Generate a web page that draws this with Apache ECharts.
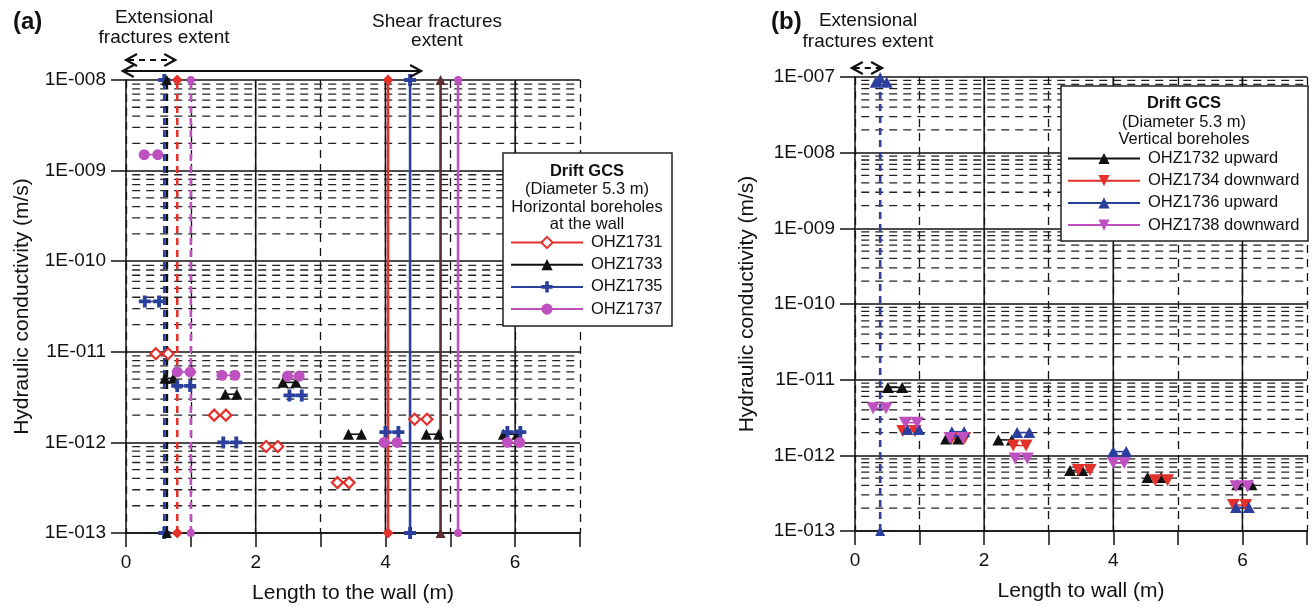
<!DOCTYPE html>
<html>
<head>
<meta charset="utf-8">
<script src="https://cdn.jsdelivr.net/npm/echarts@6/dist/echarts.min.js"></script>
<style>
  html, body { margin: 0; background: #fff; }
  #chart { width: 1312px; height: 611px; }
</style>
</head>
<body>
<div id="chart"></div>
<script>
// ---- data: [x start, x end, K (m/s)] per test interval ----
// panel (a) horizontal boreholes at the wall
const aOHZ1731 = [[0.46, 0.65, 9.5e-12], [1.36, 1.54, 2.0e-12], [2.16, 2.34, 9.0e-13], [3.26, 3.44, 3.6e-13], [4.45, 4.64, 1.8e-12]];
const aOHZ1733 = [[0.60, 0.73, 5.1e-12], [1.53, 1.71, 3.4e-12], [2.42, 2.62, 4.6e-12], [3.43, 3.63, 1.23e-12], [4.63, 4.82, 1.23e-12], [5.82, 6.03, 1.23e-12]];
const aOHZ1735 = [[0.29, 0.51, 3.6e-11], [0.79, 0.99, 4.2e-12], [1.50, 1.70, 1.0e-12], [2.52, 2.71, 3.3e-12], [4.00, 4.20, 1.3e-12], [5.88, 6.08, 1.3e-12]];
const aOHZ1737 = [[0.28, 0.49, 1.5e-9], [0.79, 0.99, 6.0e-12], [1.48, 1.68, 5.5e-12], [2.49, 2.67, 5.4e-12], [3.98, 4.18, 1.0e-12], [5.88, 6.07, 1.0e-12]];
// fracture extents per borehole (x position)
const aExtensional = { OHZ1735: 0.59, OHZ1733: 0.63, OHZ1731: 0.79, OHZ1737: 1.0 };
const aShear = { OHZ1731: 4.04, OHZ1735: 4.38, OHZ1733: 4.85, OHZ1737: 5.12 };

// panel (b) vertical boreholes
const bOHZ1732 = [[0.51, 0.73, 7.9e-12], [1.41, 1.60, 1.65e-12], [2.22, 2.43, 1.6e-12], [3.33, 3.52, 6.3e-13], [4.53, 4.74, 5.1e-13], [5.92, 6.14, 4.1e-13]];
const bOHZ1734 = [[0.74, 0.93, 2.1e-12], [1.50, 1.70, 1.7e-12], [2.45, 2.65, 1.35e-12], [3.46, 3.64, 6.4e-13], [4.65, 4.84, 4.7e-13], [5.86, 6.05, 2.2e-13]];
const bOHZ1736 = [[0.32, 0.49, 8.5e-8], [0.81, 0.99, 2.2e-12], [1.50, 1.69, 2.05e-12], [2.51, 2.70, 2.0e-12], [4.00, 4.20, 1.12e-12], [5.90, 6.10, 2.05e-13]];
const bOHZ1738 = [[0.28, 0.48, 4.2e-12], [0.78, 0.96, 2.7e-12], [1.47, 1.67, 1.7e-12], [2.48, 2.67, 9.1e-13], [4.00, 4.17, 7.9e-13], [5.90, 6.08, 3.9e-13]];
const bExtensional = { OHZ1736: 0.39 };

// arrows above the plots [x from, x to]
const aShearArrow = [-0.05, 4.55];
const aExtArrow = [0, 0.76];
const bExtArrow = [-0.05, 0.42];

const xRange = [0, 7];
const minorTickStart = -0.12;
const yRangeA = [1e-13, 1e-8];
const yRangeB = [1e-13, 1e-7];
const minorMantissa = [2, 3, 4, 5, 6, 7, 8, 9];
const solidX = [2, 4, 6];

const FONT = '"Liberation Sans", Arial, Helvetica, sans-serif';
const RED = '#e3312b', BLACK = '#111111', BLUE = '#2b3f9e', MAG = '#bf50bf', BROWN = '#5c2e2e';
const CROSS = 'path://M3.4,0H6.6V3.4H10V6.6H6.6V10H3.4V6.6H0V3.4H3.4Z';
const DOWN = 'path://M0,0L10,0L5,9Z';

const styles = {
  OHZ1731: { color: RED, symbol: 'diamond', size: 11, item: { color: '#fff', borderColor: RED, borderWidth: 2.2 } },
  OHZ1733: { color: BLACK, symbol: 'triangle', size: 11, item: { color: BLACK } },
  OHZ1735: { color: BLUE, symbol: CROSS, size: 12, item: { color: BLUE } },
  OHZ1737: { color: MAG, symbol: 'circle', size: 11, item: { color: MAG } },
  'OHZ1732 upward': { color: BLACK, symbol: 'triangle', size: [12, 11], item: { color: BLACK } },
  'OHZ1734 downward': { color: RED, symbol: DOWN, size: [13, 12], item: { color: RED } },
  'OHZ1736 upward': { color: BLUE, symbol: 'triangle', size: [12, 11], item: { color: BLUE } },
  'OHZ1738 downward': { color: MAG, symbol: DOWN, size: [13, 12], item: { color: MAG } }
};

function pairSeries(name, pairs, gi) {
  const s = styles[name];
  return pairs.map(p => ({
    type: 'line', name: name, xAxisIndex: gi, yAxisIndex: gi, clip: false, z: 4,
    data: [[p[0], p[2]], [p[1], p[2]]],
    symbol: s.symbol, symbolSize: s.size, itemStyle: s.item,
    lineStyle: { color: s.color, width: 1.6 }
  }));
}

function verticalSeries(x, color, symbol, size, dashed, gi, yr) {
  return {
    type: 'line', name: 'extent', xAxisIndex: gi, yAxisIndex: gi, clip: false, z: 3,
    data: [[x, yr[0]], [x, yr[1]]],
    symbol: symbol, symbolSize: size, itemStyle: { color: color },
    lineStyle: { color: color, width: 2.6, type: dashed ? [7, 5] : 'solid' }
  };
}

// dashed minor grid lines at 2..9 x 10^n (starting a little left of the axis as minor ticks),
// solid verticals at even x
function gridSeries(gi, yr) {
  const out = [];
  for (let e = Math.round(Math.log10(yr[0])); e < Math.round(Math.log10(yr[1])); e++) {
    minorMantissa.forEach(m => {
      const v = m * Math.pow(10, e);
      out.push({
        type: 'line', name: 'minor', xAxisIndex: gi, yAxisIndex: gi, z: 1, silent: true, symbol: 'none', clip: false,
        data: [[minorTickStart, v], [xRange[1], v]],
        lineStyle: { type: [8, 6], color: '#222', width: 1.3 }
      });
    });
  }
  solidX.forEach(x => out.push({
    type: 'line', name: 'major', xAxisIndex: gi, yAxisIndex: gi, z: 1, silent: true, symbol: 'none',
    data: [[x, yr[0]], [x, yr[1]]],
    lineStyle: { type: 'solid', color: BLACK, width: 1.5 }
  }));
  return out;
}

function sci(v) {
  const e = Math.round(Math.log10(v));
  return '1E-' + String(-e).padStart(3, '0');
}

function xAxis(gi, name) {
  return {
    type: 'value', gridIndex: gi, min: xRange[0], max: xRange[1], interval: 1,
    axisLine: { show: true, onZero: false, lineStyle: { color: BLACK, width: 1.5 } },
    axisTick: { show: true, length: 14, lineStyle: { color: BLACK, width: 1.5 } },
    axisLabel: { formatter: v => (v % 2 === 0 ? String(v) : ''), fontSize: 19, color: BLACK, margin: 20, fontFamily: FONT },
    splitLine: { show: true, lineStyle: { color: BLACK, width: 1.3, type: [8, 6] } },
    name: name, nameLocation: 'middle', nameGap: 50,
    nameTextStyle: { fontSize: 21, color: BLACK, fontFamily: FONT }
  };
}

function yAxis(gi, yr, gap) {
  return {
    type: 'log', gridIndex: gi, logBase: 10, min: yr[0], max: yr[1],
    splitNumber: Math.round(Math.log10(yr[1] / yr[0])),
    axisLine: { show: true, onZero: false, lineStyle: { color: BLACK, width: 1.5 } },
    axisTick: { show: true, length: 15, lineStyle: { color: BLACK, width: 1.5 } },
    axisLabel: { formatter: sci, fontSize: 19, color: BLACK, margin: 20, fontFamily: FONT },
    splitLine: { show: true, lineStyle: { color: BLACK, width: 1.5 } },
    name: 'Hydraulic conductivity (m/s)', nameLocation: 'middle', nameGap: gap,
    nameTextStyle: { fontSize: 21, color: BLACK, fontFamily: FONT }
  };
}

const series = [].concat(gridSeries(0, yRangeA), gridSeries(1, yRangeB));
series.push(verticalSeries(aExtensional.OHZ1735, BLUE, CROSS, 12, true, 0, yRangeA));
series.push(verticalSeries(aExtensional.OHZ1733, BLACK, 'triangle', 10, true, 0, yRangeA));
series.push(verticalSeries(aExtensional.OHZ1731, RED, 'diamond', 11, true, 0, yRangeA));
series.push(verticalSeries(aExtensional.OHZ1737, MAG, 'circle', 8, true, 0, yRangeA));
series.push(verticalSeries(aShear.OHZ1731, RED, 'diamond', 11, false, 0, yRangeA));
series.push(verticalSeries(aShear.OHZ1735, BLUE, CROSS, 12, false, 0, yRangeA));
series.push(verticalSeries(aShear.OHZ1733, BROWN, 'triangle', 10, false, 0, yRangeA));
series.push(verticalSeries(aShear.OHZ1737, MAG, 'circle', 8, false, 0, yRangeA));
series.push(verticalSeries(bExtensional.OHZ1736, BLUE, 'triangle', 10, true, 1, yRangeB));
series.push(...pairSeries('OHZ1731', aOHZ1731, 0));
series.push(...pairSeries('OHZ1733', aOHZ1733, 0));
series.push(...pairSeries('OHZ1735', aOHZ1735, 0));
series.push(...pairSeries('OHZ1737', aOHZ1737, 0));
series.push(...pairSeries('OHZ1732 upward', bOHZ1732, 1));
series.push(...pairSeries('OHZ1734 downward', bOHZ1734, 1));
series.push(...pairSeries('OHZ1736 upward', bOHZ1736, 1));
series.push(...pairSeries('OHZ1738 downward', bOHZ1738, 1));

function legend(names, left, top) {
  return {
    data: names, orient: 'vertical', left: left, top: top, padding: 0, z: 12,
    itemWidth: 72, itemHeight: 14, itemGap: 5.2, selectedMode: false,
    textStyle: { fontSize: 16.5, color: BLACK, fontFamily: FONT, padding: [0, 0, 0, 3] }
  };
}

const chart = echarts.init(document.getElementById('chart'));
chart.setOption({
  animation: false,
  backgroundColor: '#fff',
  grid: [
    { left: 126, top: 80, width: 454, height: 453 },
    { left: 855, top: 77, width: 452, height: 454 }
  ],
  xAxis: [xAxis(0, 'Length to the wall (m)'), xAxis(1, 'Length to wall (m)')],
  yAxis: [yAxis(0, yRangeA, 93), yAxis(1, yRangeB, 97)],
  legend: [
    legend(['OHZ1731', 'OHZ1733', 'OHZ1735', 'OHZ1737'], 510, 234),
    legend(['OHZ1732 upward', 'OHZ1734 downward', 'OHZ1736 upward', 'OHZ1738 downward'], 1067, 150)
  ],
  series: series
});

// annotations: labels, legend boxes, extent arrows
function text(t, x, y, size, bold, align) {
  return {
    type: 'text', z: 11,
    style: { text: t, x: x, y: y, font: (bold ? 'bold ' : '') + size + 'px ' + FONT, fill: BLACK,
      textAlign: align || 'center', textVerticalAlign: 'middle' }
  };
}

function box(x, y, w, h) {
  return { type: 'rect', z: 10, shape: { x: x, y: y, width: w, height: h },
    style: { fill: '#fff', stroke: '#222', lineWidth: 1.5 } };
}

function arrow(range, gi, y, dashed) {
  const x1 = chart.convertToPixel({ xAxisIndex: gi }, range[0]);
  const x2 = chart.convertToPixel({ xAxisIndex: gi }, range[1]);
  const st = { stroke: BLACK, lineWidth: 2, fill: null, lineDash: dashed ? [6, 5] : null };
  const head = { stroke: BLACK, lineWidth: 2.2, fill: null };
  return [
    { type: 'line', z: 11, shape: { x1: x1 + 2, y1: y, x2: x2 - 2, y2: y }, style: st },
    { type: 'polyline', z: 11, shape: { points: [[x1 + 11, y - 6], [x1, y], [x1 + 11, y + 6]] }, style: head },
    { type: 'polyline', z: 11, shape: { points: [[x2 - 11, y - 6], [x2, y], [x2 - 11, y + 6]] }, style: head }
  ];
}

const graphics = [
  text('(a)', 13, 22, 24, true, 'left'),
  text('(b)', 771, 22, 24, true, 'left'),
  text('Extensional', 164, 18, 19),
  text('fractures extent', 164, 38, 19),
  text('Shear fractures', 437, 22, 19),
  text('extent', 437, 41, 19),
  text('Extensional', 868, 21, 19),
  text('fractures extent', 868, 42, 19),
  box(503, 153, 169, 173),
  text('Drift GCS', 587, 171, 16.5, true),
  text('(Diameter 5.3 m)', 587, 189, 16.5),
  text('Horizontal boreholes', 587, 207, 16.5),
  text('at the wall', 587, 224, 16.5),
  box(1061, 86, 247, 155),
  text('Drift GCS', 1184, 103, 16.5, true),
  text('(Diameter 5.3 m)', 1184, 122, 16.5),
  text('Vertical boreholes', 1184, 139, 16.5)
].concat(
  arrow(aShearArrow, 0, 71, false),
  arrow(aExtArrow, 0, 60, true),
  arrow(bExtArrow, 1, 68, true)
);
chart.setOption({ graphic: { elements: graphics } });
</script>
</body>
</html>
